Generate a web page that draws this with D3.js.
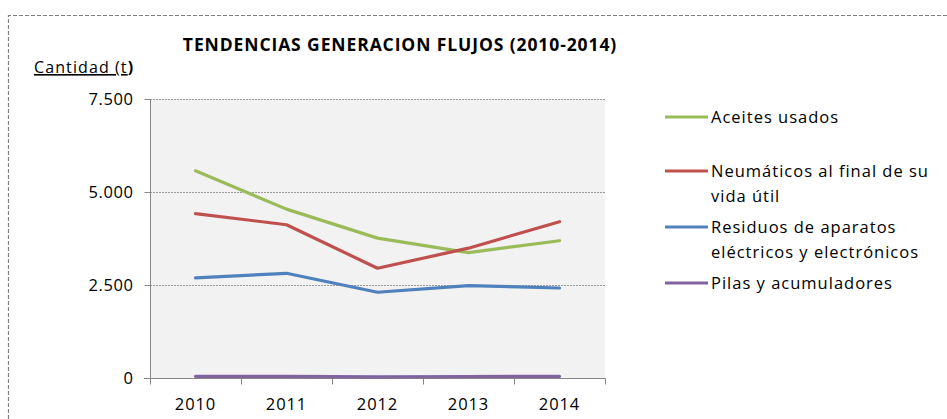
<!DOCTYPE html>
<html>
<head>
<meta charset="utf-8">
<script src="https://cdn.jsdelivr.net/npm/d3@7"></script>
<style>
  html, body { margin: 0; padding: 0; background: #fff; }
  svg { display: block; font-family: "Open Sans", sans-serif; }
</style>
</head>
<body>
<svg id="chart" width="947" height="419"></svg>
<script>
// Years on the category axis
const years = ["2010", "2011", "2012", "2013", "2014"];

// Tonnes generated per waste stream
const aceites = [5570, 4540, 3760, 3370, 3690];
const neumaticos = [4420, 4120, 2950, 3490, 4200];
const raee = [2690, 2815, 2305, 2485, 2420];
const pilas = [45, 45, 30, 40, 45];

const seriesNames = [
  ["Aceites usados"],
  ["Neumáticos al final de su", "vida útil"],
  ["Residuos de aparatos", "eléctricos y electrónicos"],
  ["Pilas y acumuladores"]
];
const seriesColors = ["#9bbb59", "#c0504d", "#4f81bd", "#8064a2"];
const seriesValues = [aceites, neumaticos, raee, pilas];

const yTicks = [0, 2500, 5000, 7500];
const yTickLabels = ["0", "2.500", "5.000", "7.500"];

const FONT = "'Open Sans', sans-serif";
const svg = d3.select("#chart");

// Dashed frame around the chart object
svg.append("path")
  .attr("d", "M8.5,419 V15.5 H947")
  .attr("fill", "none")
  .attr("stroke", "#808080")
  .attr("stroke-width", 1.2)
  .attr("stroke-dasharray", "4,2");

const plot = { left: 150, right: 605, top: 99, bottom: 378 };

const x = d3.scaleBand().domain(years).range([plot.left, plot.right]);
const y = d3.scaleLinear().domain([0, 7500]).range([plot.bottom, plot.top]);

// Plot area background
svg.append("rect")
  .attr("x", plot.left).attr("y", plot.top)
  .attr("width", plot.right - plot.left).attr("height", plot.bottom - plot.top)
  .attr("fill", "#f2f2f2");

// Horizontal gridlines
svg.append("g")
  .selectAll("line")
  .data(yTicks.filter(d => d > 0))
  .join("line")
  .attr("x1", plot.left).attr("x2", plot.right)
  .attr("y1", d => Math.round(y(d)) + 0.5).attr("y2", d => Math.round(y(d)) + 0.5)
  .attr("stroke", "#9a9a9a")
  .attr("stroke-width", 1)
  .attr("stroke-dasharray", "2,1");

// Y axis
const yAxis = svg.append("g")
  .attr("transform", `translate(${plot.left + 0.5},0)`)
  .call(d3.axisLeft(y).tickValues(yTicks).tickFormat((d, i) => yTickLabels[i]).tickSize(6).tickPadding(11));
yAxis.select(".domain").attr("stroke", "#868686").attr("d", `M0,${plot.top}V${plot.bottom}`);
yAxis.selectAll(".tick line").attr("stroke", "#868686");
yAxis.selectAll(".tick text")
  .attr("font-family", FONT)
  .attr("font-size", 16.5)
  .attr("letter-spacing", 0.6)
  .attr("fill", "#000");

// X axis with ticks between categories
const xAxisG = svg.append("g")
  .attr("transform", `translate(0,${plot.bottom + 0.5})`);
xAxisG.append("line")
  .attr("x1", plot.left - 6).attr("x2", plot.right + 0.5)
  .attr("stroke", "#868686");
const boundaries = years.map(d => x(d)).concat([plot.right]);
xAxisG.selectAll("line.tk")
  .data(boundaries)
  .join("line")
  .attr("class", "tk")
  .attr("x1", d => Math.round(d) + 0.5).attr("x2", d => Math.round(d) + 0.5)
  .attr("y1", 0).attr("y2", 6)
  .attr("stroke", "#868686");
xAxisG.selectAll("text")
  .data(years)
  .join("text")
  .attr("x", d => x(d) + x.bandwidth() / 2)
  .attr("y", 31)
  .attr("text-anchor", "middle")
  .attr("font-size", 16.5)
  .attr("letter-spacing", 0.9)
  .attr("fill", "#000")
  .text(d => d);

// Series lines
const line = d3.line()
  .x((d, i) => x(years[i]) + x.bandwidth() / 2)
  .y(d => y(d));

svg.append("g")
  .selectAll("path")
  .data(seriesValues)
  .join("path")
  .attr("d", d => line(d))
  .attr("fill", "none")
  .attr("stroke", (d, i) => seriesColors[i])
  .attr("stroke-width", 3.2)
  .attr("stroke-linejoin", "round")
  .attr("stroke-linecap", "round");

// Title
svg.append("text")
  .attr("x", 400).attr("y", 51)
  .attr("text-anchor", "middle")
  .attr("font-weight", "bold")
  .attr("font-size", 17.5)
  .attr("letter-spacing", 0.9)
  .attr("fill", "#000")
  .text("TENDENCIAS GENERACION FLUJOS (2010-2014)");

// Axis title
const yTitle = svg.append("text")
  .attr("x", 34).attr("y", 73)
  .attr("font-size", 16)
  .attr("letter-spacing", 1.1)
  .attr("fill", "#000");
yTitle.append("tspan").attr("text-decoration", "underline").text("Cantidad (t");
yTitle.append("tspan").attr("font-weight", "bold").text(")");

// Legend
const legendY = [117, 171, 227, 283];
const legend = svg.append("g");
seriesNames.forEach((lines, i) => {
  legend.append("line")
    .attr("x1", 665).attr("x2", 708)
    .attr("y1", legendY[i]).attr("y2", legendY[i])
    .attr("stroke", seriesColors[i])
    .attr("stroke-width", 3.2);
  const t = legend.append("text")
    .attr("x", 711).attr("y", legendY[i] + 6)
    .attr("font-size", 16.5)
    .attr("letter-spacing", 1.0)
    .attr("fill", "#000");
  lines.forEach((s, k) => {
    t.append("tspan").attr("x", 711).attr("dy", k === 0 ? 0 : 25).text(s);
  });
});
</script>
</body>
</html>
